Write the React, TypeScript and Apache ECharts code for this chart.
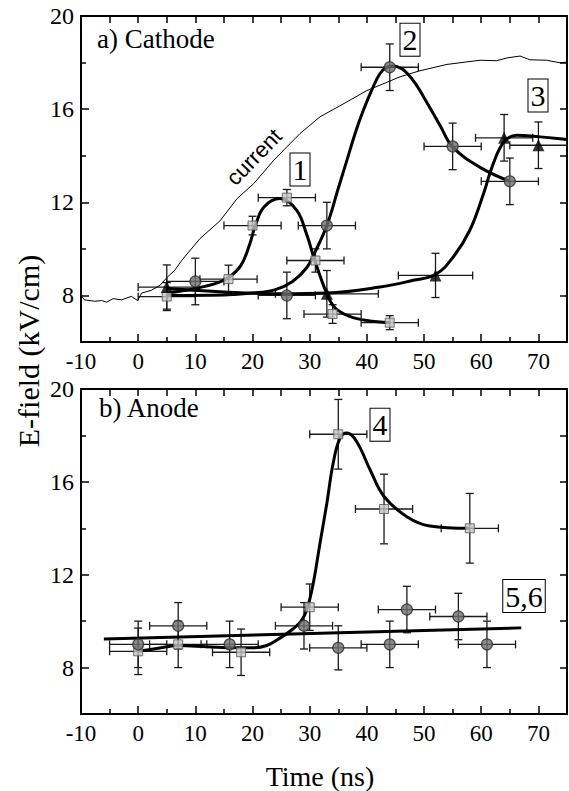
import React, { useEffect, useRef } from "react";
import * as echarts from "echarts";

// ---------- axis ticks / labels ----------
const xTickLabels = [-10, 0, 10, 20, 30, 40, 50, 60, 70];
const xMinorTicks = [-5, 5, 15, 25, 35, 45, 55, 65];
const xTopTicks = [-5, 0, 5, 10, 15, 20, 25, 30, 35, 40, 45, 50, 55, 60, 65, 70];
const yTickLabels = [8, 12, 16, 20];
const yMinorTicks = [10, 14, 18];
const yRightTicks = [8, 10, 12, 14, 16, 18];

// ---------- panel a) Cathode ----------
const cathSqX = [5, 15.8, 20, 26, 31, 34, 44];
const cathSqY = [7.95, 8.7, 11.0, 12.2, 9.5, 7.2, 6.83];
const cathSqXErr = [5, 5, 5, 5, 5, 5, 5];
const cathSqYErr = [0.6, 0.6, 0.4, 0.35, 0.5, 0.4, 0.3];

const cathCircX = [10, 26, 33, 44, 55, 65];
const cathCircY = [8.6, 8.0, 11.0, 17.8, 14.4, 12.9];
const cathCircXErr = [5, 5, 5, 5, 5, 5];
const cathCircYErr = [1, 1, 1, 1, 1, 1];

const cathTriX = [5, 33, 52, 64, 70];
const cathTriY = [8.36, 8.07, 8.86, 14.77, 14.45];
const cathTriXErr = [5, 9, 6.5, 5, 5];
const cathTriYErr = [0.95, 1, 0.95, 1, 1];

const fit1 = [[5, 8.1], [10, 8.3], [14, 8.55], [16, 8.8], [18, 9.3], [19.5, 10.2], [20.5, 11.0], [22, 11.8], [24.8, 12.16], [27.7, 11.66], [29.5, 10.6], [30.7, 9.65], [33, 8.07], [34.5, 7.45], [37, 7.1], [40, 6.92], [44, 6.83]];
const fit2 = [[5, 8.0], [15, 8.02], [20, 8.1], [24, 8.25], [27, 8.6], [29.5, 9.2], [31, 9.9], [33, 11.0], [35, 12.6], [36.5, 13.8], [38, 15.0], [39.4, 15.96], [41, 16.9], [42.3, 17.53], [43.5, 17.8], [44.7, 17.85], [46, 17.75], [47, 17.55], [48.5, 17.1], [49.9, 16.53], [52.8, 15.3], [55, 14.38], [59.8, 13.5], [65, 12.9]];
const fit3 = [[5, 8.3], [15, 8.15], [25, 8.07], [33, 8.1], [42.3, 8.36], [48.1, 8.65], [52, 8.9], [55.1, 9.65], [58, 10.8], [60.4, 12.37], [62.1, 13.66], [64, 14.6], [66.2, 14.88], [69.1, 14.84], [75, 14.7]];

const currentTrace = [[-10, 8.0], [-9.4, 7.81], [-7.6, 7.75], [-6.4, 7.78], [-5.5, 7.71], [-4.4, 7.86], [-2.9, 7.81], [-1.2, 7.96], [-0.1, 7.78], [0.6, 8.1], [2.3, 8.22], [3.8, 8.43], [5, 8.76], [6.4, 9.08], [7.6, 9.5], [10.8, 10.44], [14.3, 11.2], [17.3, 12.16], [20.2, 12.8], [23.7, 13.8], [26, 14.38], [28.3, 14.95], [31.8, 15.67], [36.5, 16.31], [40, 16.8], [42.3, 17.03], [45.8, 17.39], [49.3, 17.65], [54, 17.92], [57.5, 18.03], [59.8, 18.1], [62.7, 18.08], [64.5, 18.2], [66.8, 18.28], [68.5, 18.12], [71.4, 18.1], [73.8, 17.99], [75, 18.02]];

// ---------- panel b) Anode ----------
const anodSqX = [0, 7, 18, 30, 35, 43, 58];
const anodSqY = [8.7, 9.0, 8.66, 10.6, 18.05, 14.83, 14.0];
const anodSqXErr = [5, 5, 5, 5, 5, 5, 5];
const anodSqYErr = [1, 1, 1, 1, 1.5, 1.5, 1.5];

const anodCircX = [0, 7, 16, 29, 35, 44, 47, 56, 61];
const anodCircY = [9.0, 9.8, 9.0, 9.8, 8.85, 9.0, 10.5, 10.2, 9.0];
const anodCircXErr = [5, 5, 5, 5, 5, 5, 5, 5, 5];
const anodCircYErr = [1, 1, 1, 1, 0.95, 1, 1, 1, 1];

const fit4 = [[0, 8.7], [4, 8.85], [7, 8.95], [12, 8.9], [17, 8.85], [20, 8.85], [22.5, 8.95], [25, 9.3], [27, 9.65], [28.5, 10.0], [29.5, 10.5], [30.6, 11.6], [31.8, 13.36], [33, 15.08], [34.1, 16.8], [35.3, 17.88], [36.5, 18.1], [38.2, 17.74], [40.6, 16.5], [43, 15.37], [47, 14.5], [51, 14.1], [58, 14.0]];
const fit56 = [[-6, 9.23], [67, 9.71]];

const SERIF = "Liberation Serif";
const SANS = "Liberation Sans";
const NARROW = "Liberation Sans Narrow";

function makeXAxes(gridIndex: number) {
  const base = { type: "value", gridIndex, min: -10, max: 75, interval: 5, splitLine: { show: false } };
  return [
    {
      ...base,
      position: "bottom",
      axisLine: { show: true, onZero: false, lineStyle: { color: "#000", width: 2 } },
      axisTick: { show: true, inside: true, length: 8, customValues: xTickLabels, lineStyle: { color: "#000", width: 1.5 } },
      axisLabel: { show: true, customValues: xTickLabels, color: "#000", fontFamily: SERIF, fontSize: 23, margin: 8 },
    },
    {
      ...base,
      position: "bottom",
      axisLine: { show: false, onZero: false },
      axisTick: { show: true, inside: true, length: 5, customValues: xMinorTicks, lineStyle: { color: "#000", width: 1.5 } },
      axisLabel: { show: false },
    },
    {
      ...base,
      position: "top",
      axisLine: { show: true, onZero: false, lineStyle: { color: "#000", width: 2 } },
      axisTick: { show: true, inside: true, length: 7, customValues: xTopTicks, lineStyle: { color: "#000", width: 1.5 } },
      axisLabel: { show: false },
    },
  ];
}

function makeYAxes(gridIndex: number) {
  const base = { type: "value", gridIndex, min: 6, max: 20, interval: 2, splitLine: { show: false } };
  return [
    {
      ...base,
      position: "left",
      axisLine: { show: true, onZero: false, lineStyle: { color: "#000", width: 2 } },
      axisTick: { show: true, inside: true, length: 8, customValues: yTickLabels, lineStyle: { color: "#000", width: 1.5 } },
      axisLabel: { show: true, customValues: yTickLabels, color: "#000", fontFamily: SERIF, fontSize: 24, margin: 7 },
    },
    {
      ...base,
      position: "left",
      axisLine: { show: false, onZero: false },
      axisTick: { show: true, inside: true, length: 5, customValues: yMinorTicks, lineStyle: { color: "#000", width: 1.5 } },
      axisLabel: { show: false },
    },
    {
      ...base,
      position: "right",
      axisLine: { show: true, onZero: false, lineStyle: { color: "#000", width: 2 } },
      axisTick: { show: true, inside: true, length: 7, customValues: yRightTicks, lineStyle: { color: "#000", width: 1.5 } },
      axisLabel: { show: false },
    },
  ];
}

function errorBars(xs: number[], ys: number[], xe: number[], ye: number[], axis: number) {
  return {
    type: "custom",
    xAxisIndex: axis,
    yAxisIndex: axis,
    clip: true,
    silent: true,
    z: 1,
    encode: { x: 0, y: 1 },
    data: xs.map((x, i) => [x, ys[i], xe[i], ye[i]]),
    renderItem: (_p: any, api: any) => {
      const x = api.value(0);
      const y = api.value(1);
      const dx = api.value(2);
      const dy = api.value(3);
      const l = api.coord([x - dx, y]);
      const r = api.coord([x + dx, y]);
      const t = api.coord([x, y + dy]);
      const b = api.coord([x, y - dy]);
      const cap = 4;
      const style = { stroke: "#1a1a1a", lineWidth: 1.3, fill: null };
      const ln = (x1: number, y1: number, x2: number, y2: number) => ({ type: "line", shape: { x1, y1, x2, y2 }, style });
      return {
        type: "group",
        children: [
          ln(l[0], l[1], r[0], r[1]),
          ln(l[0], l[1] - cap, l[0], l[1] + cap),
          ln(r[0], r[1] - cap, r[0], r[1] + cap),
          ln(t[0], t[1], b[0], b[1]),
          ln(t[0] - cap, t[1], t[0] + cap, t[1]),
          ln(b[0] - cap, b[1], b[0] + cap, b[1]),
        ],
      };
    },
  };
}

const squareStyle = { color: "#c4c4c4", borderColor: "#555", borderWidth: 1 };
const circleStyle = { color: "#6f6f6f", borderColor: "#2a2a2a", borderWidth: 1.2 };
const triStyle = { color: "#000" };

function markers(xs: number[], ys: number[], axis: number, symbol: string, size: number, itemStyle: any) {
  return {
    type: "scatter",
    xAxisIndex: axis,
    yAxisIndex: axis,
    symbol,
    symbolSize: size,
    itemStyle,
    z: 4,
    silent: true,
    data: xs.map((x, i) => [x, ys[i]]),
  };
}

function fitLine(pts: number[][], axis: number, width: number, smooth: number | boolean) {
  return {
    type: "line",
    xAxisIndex: axis,
    yAxisIndex: axis,
    data: pts,
    showSymbol: false,
    symbol: "none",
    smooth,
    lineStyle: { color: "#000", width },
    z: 3,
    silent: true,
  };
}

function boxLabel(text: string, x: number, y: number) {
  return {
    type: "text",
    x,
    y,
    z: 10,
    style: {
      text,
      fontFamily: NARROW,
      fontSize: 30,
      lineHeight: 31,
      fill: "#000",
      align: "center",
      verticalAlign: "middle",
      borderColor: "#000",
      borderWidth: 1,
      padding: [1, 2, 0, 2],
      backgroundColor: "#fff",
    },
  };
}

export default function App() {
  const ref = useRef<HTMLDivElement>(null);
  useEffect(() => {
    document.body.style.margin = "0";
    if (!ref.current) return;
    const chart = echarts.init(ref.current, null, { renderer: "svg" });
    const option: any = {
      animation: false,
      backgroundColor: "#fff",
      grid: [
        { left: 81, top: 16, width: 486, height: 326 },
        { left: 81, top: 389, width: 486, height: 325 },
      ],
      xAxis: [...makeXAxes(0), ...makeXAxes(1)],
      yAxis: [...makeYAxes(0), ...makeYAxes(1)],
      series: [
        // panel a
        errorBars(cathSqX, cathSqY, cathSqXErr, cathSqYErr, 0),
        errorBars(cathCircX, cathCircY, cathCircXErr, cathCircYErr, 0),
        errorBars(cathTriX, cathTriY, cathTriXErr, cathTriYErr, 0),
        fitLine(currentTrace, 0, 1, false),
        fitLine(fit1, 0, 3, 0.4),
        fitLine(fit2, 0, 3, 0.4),
        fitLine(fit3, 0, 3, 0.4),
        markers(cathSqX, cathSqY, 0, "rect", 9, squareStyle),
        markers(cathCircX, cathCircY, 0, "circle", 11, circleStyle),
        markers(cathTriX, cathTriY, 0, "triangle", 12, triStyle),
        // panel b
        errorBars(anodSqX, anodSqY, anodSqXErr, anodSqYErr, 3),
        errorBars(anodCircX, anodCircY, anodCircXErr, anodCircYErr, 3),
        fitLine(fit4, 3, 3, 0.4),
        fitLine(fit56, 3, 3, false),
        markers(anodSqX, anodSqY, 3, "rect", 9, squareStyle),
        markers(anodCircX, anodCircY, 3, "circle", 11, circleStyle),
      ],
      graphic: [
        { type: "text", x: 97, y: 39, style: { text: "a) Cathode", fontFamily: SERIF, fontSize: 27, fill: "#000", align: "left", verticalAlign: "middle" } },
        { type: "text", x: 99, y: 408, style: { text: "b) Anode", fontFamily: SERIF, fontSize: 27, fill: "#000", align: "left", verticalAlign: "middle" } },
        {
          type: "text",
          x: 254,
          y: 157,
          rotation: (46 * Math.PI) / 180,
          style: { text: "current", fontFamily: SANS, fontSize: 22, fill: "#000", align: "center", verticalAlign: "middle" },
        },
        boxLabel("1", 300, 169.5),
        boxLabel("2", 410, 39.7),
        boxLabel("3", 538, 95.5),
        boxLabel("4", 380, 424.7),
        boxLabel("5,6", 524, 596),
        {
          type: "text",
          x: 28,
          y: 351,
          rotation: Math.PI / 2,
          style: { text: "E-field (kV/cm)", fontFamily: SERIF, fontSize: 30, fill: "#000", align: "center", verticalAlign: "middle" },
        },
        { type: "text", x: 320, y: 776, style: { text: "Time (ns)", fontFamily: SERIF, fontSize: 28, fill: "#000", align: "center", verticalAlign: "middle" } },
      ],
    };
    chart.setOption(option);
    return () => chart.dispose();
  }, []);
  return <div ref={ref} style={{ width: 569, height: 791 }} />;
}
